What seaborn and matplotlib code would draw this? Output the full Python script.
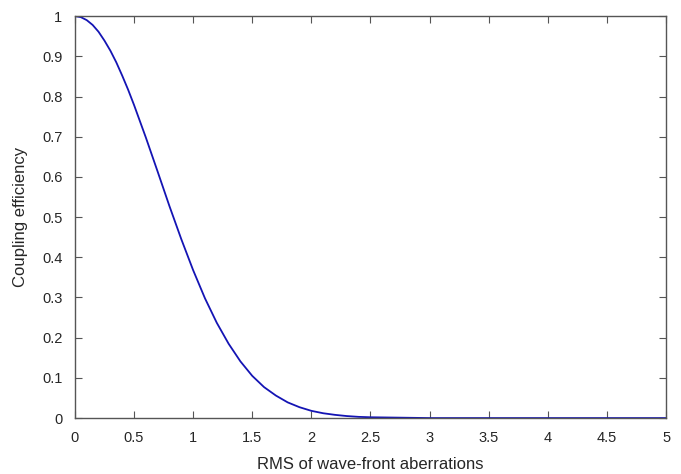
import numpy as np
import pandas as pd
import matplotlib
matplotlib.use("Agg")
import matplotlib.pyplot as plt
import seaborn as sns
from matplotlib.ticker import FuncFormatter

# Values
rms_aberration = [0.0, 0.05, 0.1, 0.15, 0.2, 0.25, 0.3, 0.35, 0.4, 0.45, 0.5,
                  0.6, 0.7, 0.8, 0.9, 1.0,
                  1.1, 1.2, 1.3, 1.4, 1.5, 1.6, 1.7, 1.8, 1.9, 2.0,
                  2.1, 2.2, 2.3, 2.4, 2.5, 3.0, 3.5, 4.0, 4.5, 5.0]
coupling_eff = [1.0, 0.9975, 0.99, 0.978, 0.961, 0.939, 0.914, 0.885, 0.852, 0.817, 0.779,
                0.698, 0.613, 0.527, 0.445, 0.368,
                0.298, 0.237, 0.185, 0.141, 0.105, 0.077, 0.056, 0.039, 0.027, 0.018,
                0.012, 0.008, 0.005, 0.003, 0.002, 0.0, 0.0, 0.0, 0.0, 0.0]
x_ticks = [0, 0.5, 1, 1.5, 2, 2.5, 3, 3.5, 4, 4.5, 5]
y_ticks = [0, 0.1, 0.2, 0.3, 0.4, 0.5, 0.6, 0.7, 0.8, 0.9, 1]

sns.set_style("ticks")
plt.rcParams["font.family"] = ["Liberation Sans", "DejaVu Sans"]

df = pd.DataFrame({"rms": rms_aberration, "eff": coupling_eff})

fig = plt.figure(figsize=(6.81, 4.74), dpi=100)
ax = fig.add_axes([0.110, 0.118, 0.868, 0.848])

sns.lineplot(data=df, x="rms", y="eff", ax=ax, color="#1414b4", linewidth=1.3)

ax.set_xlim(0, 5)
ax.set_ylim(0, 1)
ax.set_xticks(x_ticks)
ax.set_yticks(y_ticks)
fmt = FuncFormatter(lambda v, p: f"{v:g}")
ax.xaxis.set_major_formatter(fmt)
ax.yaxis.set_major_formatter(fmt)
ax.tick_params(direction="in", length=5, width=0.8, color="#555555",
               top=True, right=True, labelsize=10.5, pad=9)
for s in ax.spines.values():
    s.set_color("#555555")
    s.set_linewidth(1.0)
ax.set_xlabel("RMS of wave-front aberrations", fontsize=12, labelpad=9)
ax.set_ylabel("Coupling efficiency", fontsize=12, labelpad=10)

fig.savefig("out.png", dpi=100)
